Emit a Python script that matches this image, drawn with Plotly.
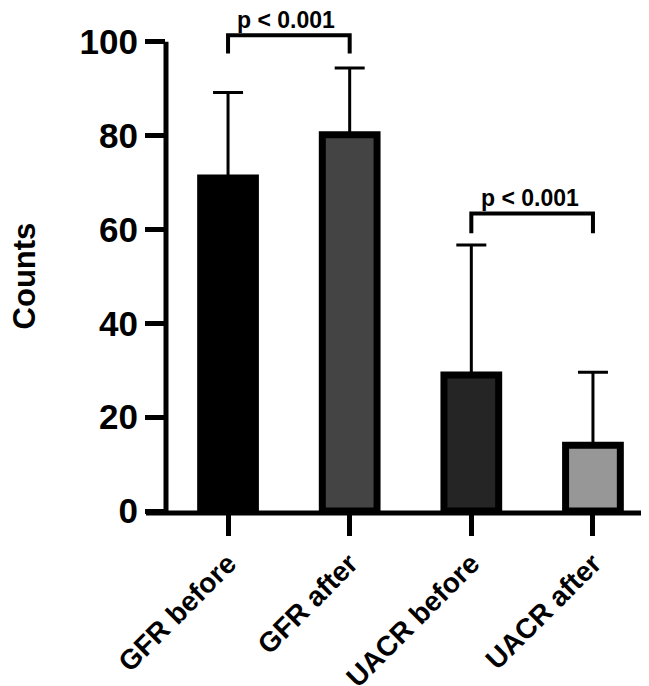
import plotly.graph_objects as go

categories = ["GFR before", "GFR after", "UACR before", "UACR after"]
means = [71.0, 80.2, 29.0, 14.0]
sds = [18.2, 14.2, 27.7, 15.6]
fill_colors = ["#000000", "#444444", "#252525", "#979797"]
y_ticks = [0, 20, 40, 60, 80, 100]

# significance brackets: (left category, right category, bracket height, leg bottom, label height, label)
brackets = [
    (0, 1, 101.4, 97.5, 104.6, "p < 0.001"),
    (2, 3, 63.4, 59.2, 66.8, "p < 0.001"),
]

FONT = "Liberation Sans, Arial, Helvetica, sans-serif"

fig = go.Figure()
fig.add_trace(go.Bar(
    x=categories, y=means, width=0.45,
    marker=dict(color=fill_colors, line=dict(color="black", width=7)),
    error_y=dict(type="data", array=sds, arrayminus=[0] * len(sds), symmetric=False,
                 color="black", thickness=3, width=15),
    showlegend=False,
))

for a, b, h, leg, ty, label in brackets:
    fig.add_trace(go.Scatter(
        x=[categories[a], categories[a], categories[b], categories[b]],
        y=[leg, h, h, leg], mode="lines",
        line=dict(color="black", width=4), showlegend=False, hoverinfo="skip",
    ))
    fig.add_annotation(x=(a + b) / 2 - 0.02, y=ty, xref="x", yref="y", text=label,
                       showarrow=False, xanchor="center", yanchor="middle",
                       font=dict(family=FONT, size=23, color="black", weight="bold"))

# y axis line only from 0 to 100
fig.add_shape(type="line", xref="paper", yref="y", x0=0, x1=0, y0=0, y1=100,
              line=dict(color="black", width=5))
# x axis line extending left like the 0 tick
fig.add_shape(type="line", xref="paper", yref="paper", x0=-20 / 489, x1=1,
              y0=-2 / 517, y1=-2 / 517, line=dict(color="black", width=5))

fig.add_annotation(text="Counts", xref="paper", yref="y", x=(16 - 158) / 489, y=50,
                   textangle=-90, showarrow=False, xanchor="center", yanchor="middle",
                   font=dict(family=FONT, size=31, color="black", weight="bold"))

fig.update_xaxes(
    type="category", categoryarray=categories, range=[-0.51, 3.51],
    showline=False, showgrid=False, zeroline=False,
    ticks="outside", ticklen=24, tickwidth=5, tickcolor="black",
    tickangle=-45, tickfont=dict(family=FONT, size=28, color="black", weight="bold"),
)
fig.update_yaxes(
    range=[0, 107], tickvals=y_ticks, showline=False, showgrid=False, zeroline=False,
    ticks="outside", ticklen=20, tickwidth=5, tickcolor="black",
    tickfont=dict(family=FONT, size=35, color="black", weight="bold"),
)
fig.update_layout(
    width=649, height=686,
    margin=dict(l=158, r=2, t=1, b=168),
    plot_bgcolor="white", paper_bgcolor="white",
    bargap=0.5,
)
fig.write_html("out.html")
